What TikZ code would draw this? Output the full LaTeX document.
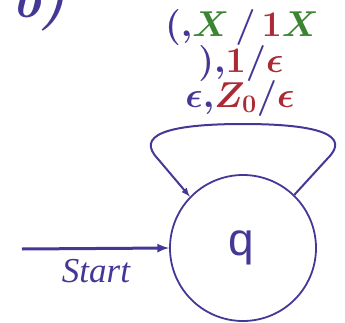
\RequirePackage{fix-cm}
\documentclass[tikz,border=0pt]{standalone}
\usepackage{amsmath, amssymb, bm}
\usepackage{fontspec}
\usepackage{xcolor}
\usepackage{tikz}
\usetikzlibrary{calc, positioning}
\newfontfamily\startfont{Liberation Serif}
\newfontfamily\statefont{Liberation Sans}
\definecolor{pdablue}{RGB}{68,56,150}
\definecolor{pdagreen}{RGB}{58,132,50}
\definecolor{pdared}{RGB}{172,42,52}
\tikzset{
    state/.style={draw=pdablue, circle, line width=1.8pt, minimum size=146pt, inner sep=0pt},
    edgelabel/.style={anchor=base, text=pdablue, inner sep=0pt, font=\fontsize{36}{36}\selectfont}
}

\begin{document}
\begin{tikzpicture}[>=latex, x=1pt, y=1pt]
    \useasboundingbox (0,0) rectangle (345,322);
    % 1. Trạng thái
    \node[state] (q) at (243,74) {};
    \node[anchor=base, text=pdablue, inner sep=0pt] (qname) at (241,67)
        {\fontsize{46}{46}\statefont q};
    \node[anchor=base west, text=pdablue, inner sep=0pt] (part) at (12,304)
        {\fontsize{54}{54}\selectfont\bfseries\itshape b)};

    % 2. Mũi tên bắt đầu
    \coordinate (s) at (22,73);
    \draw[->, pdablue, line width=3pt] (s) -- (q.west);
    \node[anchor=base, text=pdablue, inner sep=0pt] (start) at (96,40)
        {\fontsize{35}{35}\startfont\itshape Start};

    % 3. Vòng lặp
    \draw[->, pdablue, line width=2pt] (q.46) -- (328,164)
        .. controls (350,186) and (322,198) .. (243,198)
        .. controls (164,198) and (136,186) .. (158,163) -- (q.136);

    % 4. Nhãn
    \node[edgelabel] (l1) at (242,285)
        {$\bm{(}{\bm{,}}\color{pdagreen}\bm{X}\,\color{pdablue}\bm{/}\,\color{pdared}\bm{1}\color{pdagreen}\bm{X}$};
    \node[edgelabel] (l2) at (241,249)
        {$\bm{)}{\bm{,}}\color{pdared}\bm{1}\color{pdablue}\bm{/}\color{pdared}\bm{\epsilon}$};
    \node[edgelabel] (l3) at (240,215)
        {$\bm{\epsilon}{\bm{,}}\color{pdared}\bm{Z_0}\color{pdablue}\bm{/}\color{pdared}\bm{\epsilon}$};
\end{tikzpicture}
\end{document}
